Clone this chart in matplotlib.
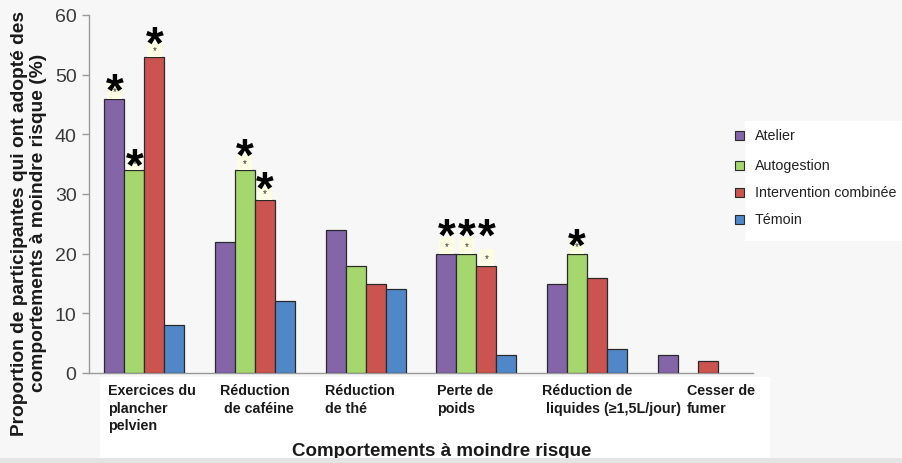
import matplotlib
matplotlib.use("Agg")
import matplotlib.pyplot as plt
from matplotlib.patches import Rectangle
from matplotlib.transforms import blended_transform_factory

plt.rcParams['font.family'] = ['Liberation Sans', 'DejaVu Sans']

# ---- data ----
categories = [
    "Exercices du\nplancher\npelvien",
    "Réduction\n de caféine",
    "Réduction\nde thé",
    "Perte de\npoids",
    "Réduction de\n liquides (≥1,5L/jour)",
    "Cesser de\nfumer",
]
series_names = ["Atelier", "Autogestion", "Intervention combinée", "Témoin"]
atelier = [46, 22, 24, 20, 15, 3]
autogestion = [34, 34, 18, 20, 20, 0]
intervention = [53, 29, 15, 18, 16, 2]
temoin = [8, 12, 14, 3, 4, 0]
# significance flags (1 = significant) per category, per series
significant = [
    [1, 1, 1, 0],
    [0, 1, 1, 0],
    [0, 0, 0, 0],
    [1, 1, 1, 0],
    [0, 1, 0, 0],
    [0, 0, 0, 0],
]
yticks = [0, 10, 20, 30, 40, 50, 60]
ylabel = "Proportion de participantes qui ont adopté des\ncomportements à moindre risque (%)"
xlabel = "Comportements à moindre risque"

# ---- styling ----
colors = ["#8466A8", "#A6D66E", "#CB5451", "#4F87C8"]
bg = "#f7f7f7"
W, H = 902, 464
# vertical lift of the large asterisk above each flagged bar (data units)
star_lift = [
    [2.7, 2.1, 3.6, 0],
    [0, 3.8, 3.2, 0],
    [0, 0, 0, 0],
    [4.4, 4.4, 6.4, 0],
    [0, 2.7, 0, 0],
    [0, 0, 0, 0],
]
# left anchor of each category label, relative to the category centre
label_shift = [-0.328, -0.316, -0.368, -0.356, -0.407, -0.096]

fig = plt.figure(figsize=(W / 100, H / 100), dpi=100, facecolor=bg)

def fx(px):
    return px / W

def fy(py):
    return 1 - py / H

# white panels behind the category labels and the legend
fig.add_artist(Rectangle((fx(100), fy(459)), fx(670), 81 / H,
                         transform=fig.transFigure, facecolor="white",
                         edgecolor="none", zorder=-2))
fig.add_artist(Rectangle((fx(745), fy(242)), fx(157), 120 / H,
                         transform=fig.transFigure, facecolor="white",
                         edgecolor="none", zorder=-2))

ax = fig.add_axes([fx(89), fy(374), fx(753 - 89), (374 - 16) / H])
ax.patch.set_visible(False)

n = len(categories)
bw = 0.1807
all_series = [atelier, autogestion, intervention, temoin]
px_per_unit = 358 / 60.0

for j, vals in enumerate(all_series):
    for i, v in enumerate(vals):
        if v == 0:
            continue
        xc = i + (j - 1.5) * bw
        ax.bar(xc, v, width=bw, color=colors[j], edgecolor="#2a2a2a",
               linewidth=0.9, zorder=3)
        if significant[i][j]:
            ax.add_patch(Rectangle((xc - 0.36 * bw, v), 0.72 * bw, 2.8,
                                   facecolor="#fcfde2", edgecolor="none",
                                   zorder=4))
            ax.text(xc, v + 0.7, "*", ha="center", va="baseline",
                    fontsize=7, color="#333333", zorder=5)
            fs = 33
            glyph_mid = 0.48 * fs * 100 / 72 / px_per_unit
            ax.text(xc, v + star_lift[i][j] - glyph_mid, "*", ha="center",
                    va="baseline", fontsize=fs, fontweight="bold",
                    color="black", zorder=5)

ax.set_xlim(-0.5, n - 0.5)
ax.set_ylim(0, 60)
ax.set_yticks(yticks)
ax.set_xticks([])
ax.tick_params(axis="y", length=5, width=1, color="#9a9a9a",
               labelsize=14, labelcolor="#3a3a3a", pad=4)
for side in ("top", "right"):
    ax.spines[side].set_visible(False)
for side in ("left", "bottom"):
    ax.spines[side].set_color("#9a9a9a")
    ax.spines[side].set_linewidth(1)

trans = blended_transform_factory(ax.transData, ax.transAxes)
for i, lab in enumerate(categories):
    ax.text(i + label_shift[i], -0.028, lab, transform=trans, ha="left",
            va="top", fontsize=10.3, fontweight="bold", color="#1a1a1a",
            linespacing=1.32, multialignment="left", clip_on=False)

fig.text(fx(442), fy(452), xlabel, ha="center", va="center", fontsize=13.5,
         fontweight="bold", color="#1a1a1a")
fig.text(fx(29), fy(223), ylabel, ha="center", va="center", rotation=90,
         fontsize=13.8, fontweight="bold", color="#1a1a1a",
         multialignment="center", linespacing=1.08)

# legend
leg_rows = [136, 166, 193, 220]
for j, name in enumerate(series_names):
    yc = leg_rows[j]
    fig.add_artist(Rectangle((fx(735), fy(yc + 4.5)), fx(9), 9 / H,
                             transform=fig.transFigure, facecolor=colors[j],
                             edgecolor="#2a2a2a", linewidth=0.8))
    fig.text(fx(755), fy(yc), name, ha="left", va="center", fontsize=10.3,
             color="#222222")

# footer band
fig.add_artist(Rectangle((0, 0), 1, 5 / H, transform=fig.transFigure,
                         facecolor="#e4e4e4", edgecolor="none", zorder=10))

fig.savefig("out.png", dpi=100, facecolor=bg)
